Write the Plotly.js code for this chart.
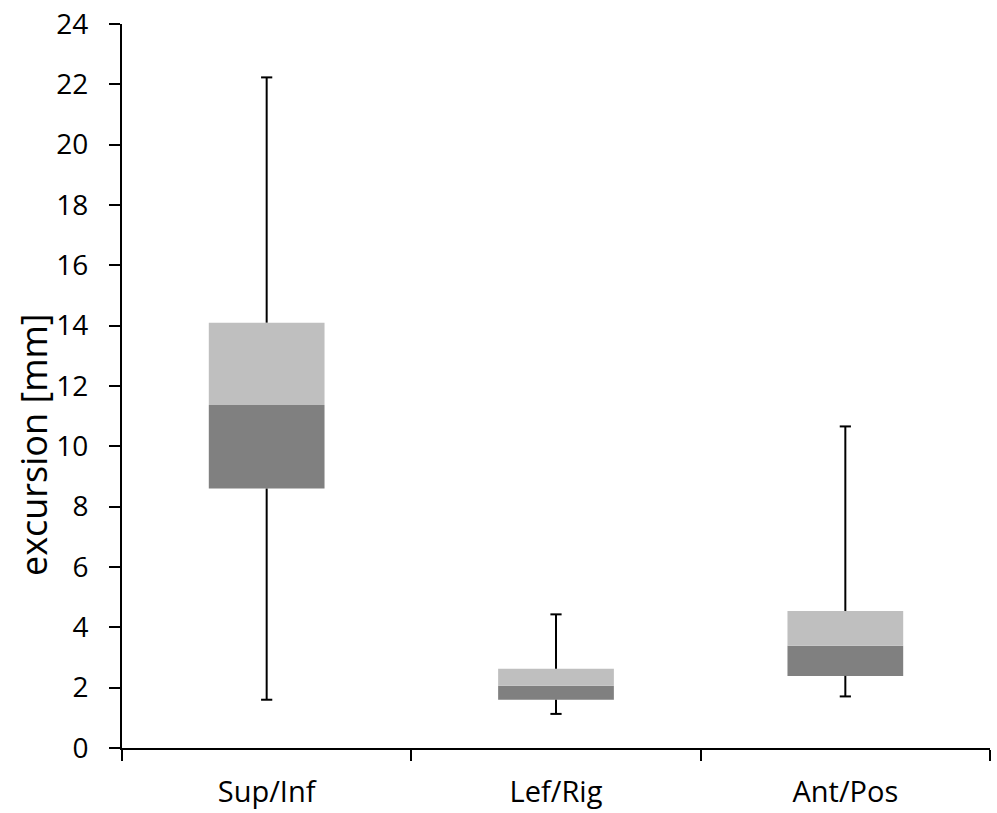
<!DOCTYPE html>
<html>
<head>
<meta charset="utf-8">
<script src="https://cdn.plot.ly/plotly-3.0.1.min.js"></script>
<style>html,body{margin:0;padding:0;background:#fff;}#chart{width:997px;height:813px;}</style>
</head>
<body>
<div id="chart"></div>
<script>
// Data
const categories = ["Sup/Inf", "Lef/Rig", "Ant/Pos"];
const minValues = [1.6, 1.13, 1.71];
const q1Values = [8.6, 1.6, 2.39];
const medianValues = [11.37, 2.06, 3.39];
const q3Values = [14.1, 2.63, 4.54];
const maxValues = [22.23, 4.43, 10.66];
const yTickValues = [0, 2, 4, 6, 8, 10, 12, 14, 16, 18, 20, 22, 24];
const yTitle = "excursion [mm]";

const FONT = "Open Sans, Noto Sans, sans-serif";
const zeros = categories.map(() => 0);

const traces = [
  {
    type: "bar", x: categories,
    base: q1Values,
    y: medianValues.map((m, i) => m - q1Values[i]),
    marker: {color: "#808080", line: {width: 0}},
    hoverinfo: "skip", showlegend: false
  },
  {
    type: "bar", x: categories,
    base: medianValues,
    y: q3Values.map((q, i) => q - medianValues[i]),
    marker: {color: "#bfbfbf", line: {width: 0}},
    hoverinfo: "skip", showlegend: false
  },
  {
    type: "scatter", mode: "markers", x: categories, y: maxValues,
    marker: {symbol: "line-ew", size: 8, line: {width: 2, color: "#000"}},
    error_y: {type: "data", symmetric: false, array: zeros,
      arrayminus: maxValues.map((v, i) => v - q3Values[i]),
      width: 0, thickness: 2, color: "#000"},
    hoverinfo: "skip", showlegend: false
  },
  {
    type: "scatter", mode: "markers", x: categories, y: minValues,
    marker: {symbol: "line-ew", size: 8, line: {width: 2, color: "#000"}},
    error_y: {type: "data", symmetric: false, arrayminus: zeros,
      array: q1Values.map((v, i) => v - minValues[i]),
      width: 0, thickness: 2, color: "#000"},
    hoverinfo: "skip", showlegend: false
  }
];

const layout = {
  width: 997, height: 813,
  margin: {l: 122, r: 7, t: 24, b: 65, pad: 0},
  paper_bgcolor: "#fff", plot_bgcolor: "#fff",
  barmode: "overlay", bargap: 0.6,
  showlegend: false,
  font: {family: FONT, color: "#000", size: 28},
  xaxis: {
    type: "category", range: [-0.5, 2.5],
    showline: true, linecolor: "#000", linewidth: 2,
    ticks: "outside", tickson: "boundaries", ticklen: 11, tickwidth: 2, tickcolor: "#000",
    showgrid: false, zeroline: false, ticklabelstandoff: 17,
    tickfont: {family: FONT, size: 29, color: "#000"}
  },
  yaxis: {
    range: [0, 24], tickvals: yTickValues, ticktext: yTickValues.map(String),
    showline: true, linecolor: "#000", linewidth: 2,
    ticks: "outside", ticklen: 11, tickwidth: 2, tickcolor: "#000",
    showgrid: false, zeroline: false, ticklabelstandoff: 15,
    tickfont: {family: FONT, size: 28, color: "#000"}
  },
  annotations: [{
    text: yTitle, textangle: -90, showarrow: false,
    xref: "paper", yref: "paper", x: -0.1025, y: 0.4185,
    xanchor: "center", yanchor: "middle",
    font: {family: FONT, size: 36, color: "#000"}
  }]
};

Plotly.newPlot("chart", traces, layout, {staticPlot: true, displayModeBar: false});
</script>
</body>
</html>
